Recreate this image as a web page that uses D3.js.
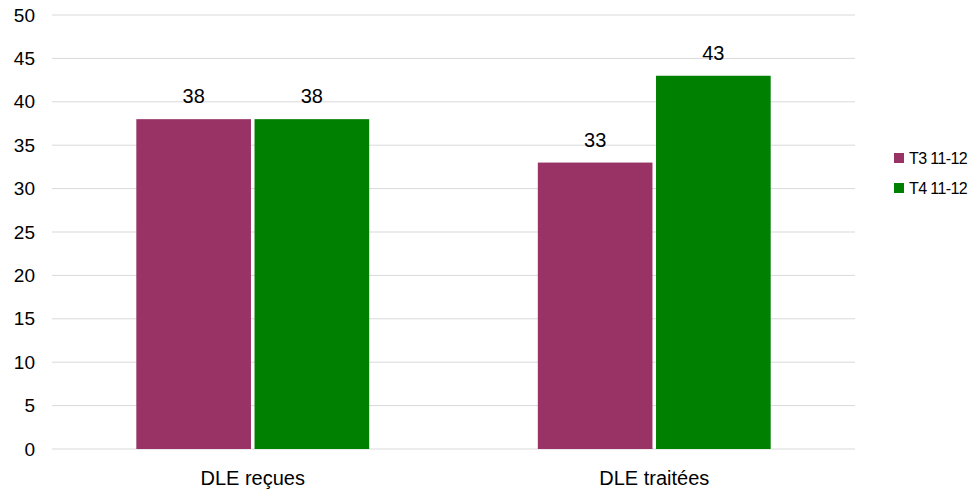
<!DOCTYPE html>
<html><head><meta charset="utf-8">
<script src="https://cdn.jsdelivr.net/npm/d3@7"></script>
<style>body{margin:0;background:#fff;} text{font-family:"Liberation Sans",Arial,sans-serif;fill:#000;}</style>
</head><body><svg id="c" width="974" height="492"></svg>
<script>
const categories = ["DLE reçues", "DLE traitées"];
const seriesNames = ["T3 11-12", "T4 11-12"];
const t3Values = [38, 33];
const t4Values = [38, 43];
const yTicks = [0, 5, 10, 15, 20, 25, 30, 35, 40, 45, 50];
const colors = ["#993366", "#008000"];

(function () {
const svg = d3.select("#c");
const mLeft = 52, mRight = 855, mTop = 15, mBottom = 449;
const y = d3.scaleLinear().domain([0, 50]).range([mBottom, mTop]);
const x0 = d3.scaleBand().domain(categories).range([mLeft, mRight]).paddingInner(0.42).paddingOuter(0.21);
const x1 = d3.scaleBand().domain(seriesNames).range([0, x0.bandwidth()]).paddingInner(0.03);

svg.append("g").selectAll("line").data(yTicks).join("line")
  .attr("x1", mLeft).attr("x2", mRight)
  .attr("y1", d => y(d)).attr("y2", d => y(d))
  .attr("stroke", "#d9d9d9").attr("stroke-width", 1);

const yAxis = d3.axisLeft(y).tickValues(yTicks).tickSize(0).tickPadding(0);
const ga = svg.append("g").attr("transform", "translate(35,0)").call(yAxis);
ga.select(".domain").remove();
ga.selectAll("text").attr("font-size", 19).attr("fill", "#000").style("font-family", "Liberation Sans, Arial, sans-serif");

const data = categories.map((c, i) => ({cat: c, vals: [t3Values[i], t4Values[i]]}));
const groups = svg.append("g").selectAll("g").data(data).join("g")
  .attr("transform", d => `translate(${x0(d.cat)},0)`);
groups.selectAll("rect").data(d => d.vals.map((v, j) => ({s: seriesNames[j], v, j}))).join("rect")
  .attr("x", d => x1(d.s)).attr("width", x1.bandwidth())
  .attr("y", d => y(d.v)).attr("height", d => y(0) - y(d.v))
  .attr("fill", d => colors[d.j]);
groups.selectAll("text.val").data(d => d.vals.map((v, j) => ({s: seriesNames[j], v, j}))).join("text")
  .attr("class", "val")
  .attr("x", d => x1(d.s) + x1.bandwidth() / 2).attr("y", d => y(d.v) - 16)
  .attr("text-anchor", "middle").attr("font-size", 20).text(d => d.v);

const xAxis = d3.axisBottom(x0).tickSize(0).tickPadding(0);
const gx = svg.append("g").attr("transform", `translate(0,${mBottom + 21})`).call(xAxis);
gx.select(".domain").remove();
gx.selectAll("text").attr("font-size", 20).attr("fill", "#000").attr("dy", "0.75em").style("font-family", "Liberation Sans, Arial, sans-serif");

const lg = svg.append("g").attr("transform", "translate(894,153)");
const li = lg.selectAll("g").data(seriesNames).join("g").attr("transform", (d, i) => `translate(0,${i * 30})`);
li.append("rect").attr("width", 10).attr("height", 10).attr("fill", (d, i) => colors[i]);
li.append("text").attr("x", 15).attr("y", 5).attr("dy", "0.35em").attr("font-size", 16).attr("letter-spacing", "-0.6px").text(d => d);
})();
</script></body></html>
